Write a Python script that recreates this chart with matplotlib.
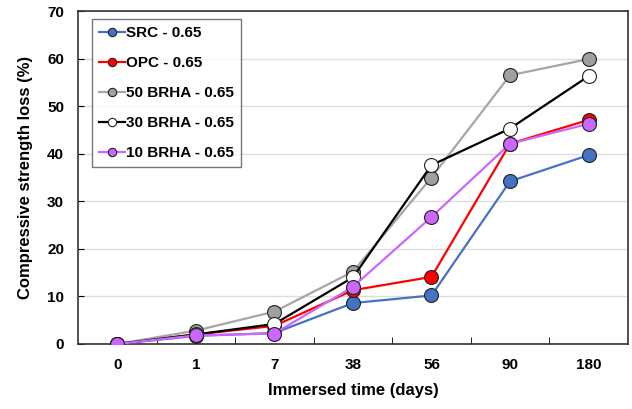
import matplotlib.pyplot as plt

plt.rcParams['font.family'] = ['Liberation Sans', 'DejaVu Sans']
plt.rcParams['font.weight'] = 'bold'

days = ['0', '1', '7', '38', '56', '90', '180']

src = [0, 1.7, 2.3, 8.6, 10.2, 34.2, 39.7]
opc = [0, 2.0, 3.8, 11.3, 14.1, 42.1, 47.1]
brha50 = [0, 2.8, 6.8, 15.2, 35.0, 56.5, 59.9]
brha30 = [0, 2.0, 4.2, 14.0, 37.6, 45.3, 56.3]
brha10 = [0, 1.8, 2.2, 12.0, 26.7, 42.1, 46.3]

series = [
    ('SRC - 0.65', src, '#4472C4', '#4472C4'),
    ('OPC - 0.65', opc, '#FF0000', '#FF0000'),
    ('50 BRHA - 0.65', brha50, '#A6A6A6', '#A0A0A0'),
    ('30 BRHA - 0.65', brha30, '#000000', '#FFFFFF'),
    ('10 BRHA - 0.65', brha10, '#CC66FF', '#CC66FF'),
]

fig = plt.figure(figsize=(6.32, 4.09), dpi=100)
ax = fig.add_axes([0.1234, 0.159, 0.870, 0.814])

x = list(range(len(days)))
for name, vals, lc, fc in series:
    ax.plot(x, vals, color=lc, lw=1.6, marker='o', markersize=10,
            markerfacecolor=fc, markeredgecolor='#222222', markeredgewidth=0.8,
            label=name, zorder=3)

ax.set_xlim(-0.5, 6.5)
ax.set_ylim(0, 70)
ax.set_yticks(range(0, 71, 10))
ax.set_xticks(x)
ax.set_xticklabels(days)
ax.tick_params(axis='x', length=0, pad=10)
ax.set_xticks([i + 0.5 for i in range(6)], minor=True)
ax.tick_params(axis='x', which='minor', direction='in', length=5)
ax.tick_params(axis='y', direction='in', length=4, pad=10)
ax.tick_params(labelsize=11)
ax.grid(axis='y', color='#DDDDDD', lw=1)
ax.set_axisbelow(True)
for s in ax.spines.values():
    s.set_color('#333333')
    s.set_linewidth(1.2)

ax.set_xlabel('Immersed time (days)', fontsize=12, fontweight='bold', labelpad=8)
ax.set_ylabel('Compressive strength loss (%)', fontsize=12, fontweight='bold', labelpad=10)

leg = ax.legend(loc='upper left', bbox_to_anchor=(0.026, 0.975),
                frameon=True, fancybox=False, edgecolor='#555555',
                handlelength=1.7, handletextpad=0.05, labelspacing=1.05,
                borderpad=0.45, markerscale=0.6, borderaxespad=0,
                prop={'weight': 'bold', 'size': 11})
leg.get_frame().set_linewidth(1.0)

fig.savefig('out.png', dpi=100)
